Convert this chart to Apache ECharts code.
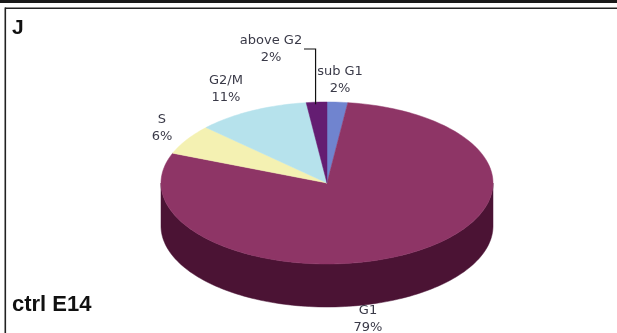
<!DOCTYPE html>
<html>
<head>
<meta charset="utf-8">
<script src="https://cdn.jsdelivr.net/npm/echarts@6/dist/echarts.min.js"></script>
<style>
  html, body { margin: 0; padding: 0; background: #fff; }
  #chart { width: 617px; height: 333px; }
</style>
</head>
<body>
<div id="chart"></div>
<script>
// Cell-cycle phase distribution, control E14
const categories = ['sub G1', 'G1', 'S', 'G2/M', 'above G2'];
const values = [2, 79, 6, 11, 2];
const topColors = ['#7084cf', '#8e3566', '#f4f1b2', '#b6e2ec', '#641d72'];
const sideColors = ['#3c4a80', '#4b1334', '#9a975c', '#6a8f97', '#36103e'];

// Tilted pie geometry (pixels)
const cx = 327, cy = 183, rx = 166, ry = 81, depth = 43;

// Label anchor points for each category (centre of the two-line label)
const labelPos = {
  'sub G1': [340, 80],
  'G1': [368, 319],
  'S': [162, 128],
  'G2/M': [226, 89],
  'above G2': [271, 49]
};

const total = values.reduce((a, b) => a + b, 0);

function pt(deg, dy) {
  const r = deg * Math.PI / 180;
  return [cx + rx * Math.sin(r), cy - ry * Math.cos(r) + (dy || 0)];
}

function arc(a0, a1, dy) {
  const pts = [];
  const n = Math.max(2, Math.ceil(Math.abs(a1 - a0) / 1.5));
  for (let k = 0; k <= n; k++) pts.push(pt(a0 + (a1 - a0) * k / n, dy));
  return pts;
}

function renderItem(params, api) {
  const i = params.dataIndex;
  let before = 0;
  for (let k = 0; k < i; k++) before += values[k];
  const a0 = before / total * 360;
  const a1 = (before + api.value(1)) / total * 360;
  const children = [];

  // side wall: only the front half of the rim (90..270 deg) is visible
  const s0 = Math.max(a0, 90), s1 = Math.min(a1, 270);
  if (s1 > s0) {
    const topEdge = arc(s0, s1, 0);
    const botEdge = arc(s1, s0, depth);
    children.push({
      type: 'polygon',
      shape: { points: topEdge.concat(botEdge) },
      style: { fill: sideColors[i], stroke: sideColors[i], lineWidth: 0.5 }
    });
  }

  // top face
  children.push({
    type: 'polygon',
    z2: 10,
    shape: { points: [[cx, cy]].concat(arc(a0, a1, 0)) },
    style: { fill: topColors[i], stroke: topColors[i], lineWidth: 0.5 }
  });

  // label
  const name = categories[i];
  const p = labelPos[name];
  children.push({
    type: 'text',
    z2: 20,
    x: p[0], y: p[1],
    style: {
      text: name + '\n' + api.value(1) + '%',
      fontFamily: 'DejaVu Sans',
      fontSize: 13,
      lineHeight: 17,
      fill: '#3a3a48',
      align: 'center',
      verticalAlign: 'middle'
    }
  });

  // leader line for the thin slice at the top
  if (name === 'above G2') {
    const mid = pt((a0 + a1) / 2, 0);
    const lx = mid[0] - 1;
    children.push({
      type: 'polyline',
      z2: 20,
      shape: { points: [[304, 49], [lx, 49], [lx, mid[1] + 2]] },
      style: { stroke: '#111', lineWidth: 1.2, fill: null }
    });
  }

  return { type: 'group', children: children };
}

const chart = echarts.init(document.getElementById('chart'), null, { renderer: 'canvas' });
chart.setOption({
  animation: false,
  backgroundColor: '#fff',
  graphic: [
    { type: 'rect', shape: { x: 0, y: 0, width: 617, height: 3 }, style: { fill: '#1a1a1a' } },
    { type: 'rect', shape: { x: 5, y: 7.5, width: 612, height: 1.6 }, style: { fill: '#222' } },
    { type: 'rect', shape: { x: 4.5, y: 7.5, width: 1.6, height: 330 }, style: { fill: '#222' } },
    {
      type: 'text', left: 12, top: 18,
      style: { text: 'J', font: 'bold 21px "Liberation Sans", Arial, sans-serif', fill: '#111' }
    },
    {
      type: 'text', left: 12, top: 294,
      style: { text: 'ctrl E14', font: 'bold 22px "Liberation Sans", Arial, sans-serif', fill: '#111' }
    }
  ],
  series: [{
    type: 'custom',
    coordinateSystem: 'none',
    renderItem: renderItem,
    data: values.map((v, i) => [i, v])
  }]
});
</script>
</body>
</html>
